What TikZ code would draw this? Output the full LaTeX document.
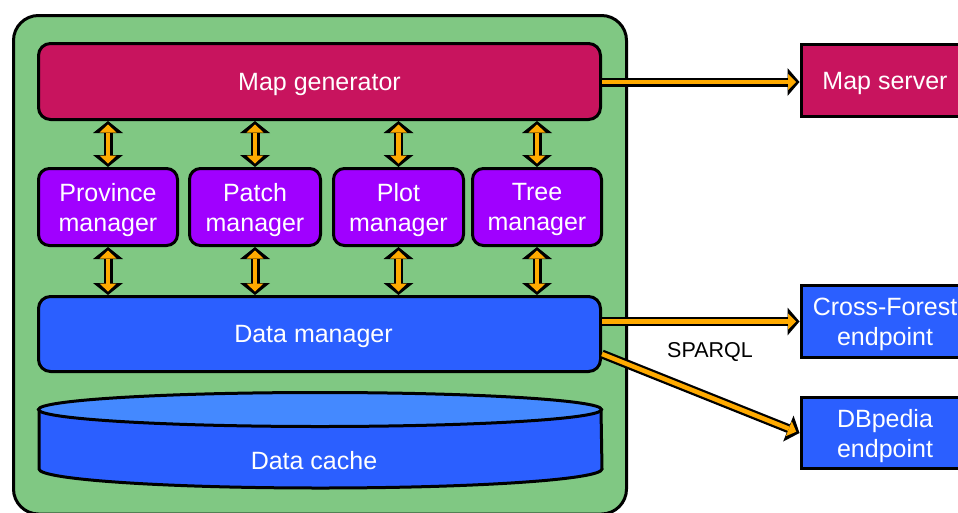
\documentclass[tikz,border=0pt]{standalone}
\usepackage{fontspec}
\setmainfont{Liberation Sans}
\usetikzlibrary{arrows.meta}
\definecolor{cgreen}{HTML}{80C883}
\definecolor{ccrimson}{HTML}{C8145E}
\definecolor{cpurple}{HTML}{A000FF}
\definecolor{cblue}{HTML}{2B5FFF}
\definecolor{clight}{HTML}{4489FF}
\definecolor{corange}{HTML}{FFAA00}
\begin{document}
\begin{tikzpicture}[x=1pt,y=-1pt,
  box/.style={draw=black, line width=3pt, text=white, font=\fontsize{25}{30}\selectfont, align=center, inner sep=0pt, text depth=-1pt},
  rbox/.style={box, rounded corners=12pt},
  mgr/.style={rbox, fill=cpurple, rounded corners=11pt, minimum width=#1, minimum height=77pt},
  conn/.style={line width=4.5pt, draw=corange,
    {Triangle[length=8pt,width=17pt,line width=0pt]}-{Triangle[length=8pt,width=17pt,line width=0pt]},
    shorten >=3.5pt, shorten <=3.5pt,
    preaction={draw=black, line width=9pt,
      {Triangle[length=12pt,width=30pt,line width=0pt]}-{Triangle[length=12pt,width=30pt,line width=0pt]},
      shorten >=0pt, shorten <=0pt}},
  oneway/.style={line width=4.5pt, draw=corange,
    -{Triangle[length=8pt,width=16pt,line width=0pt]},
    shorten >=3.5pt,
    preaction={draw=black, line width=9pt,
      -{Triangle[length=12pt,width=28pt,line width=0pt]},
      shorten >=0pt}},
  lbl/.style={font=\fontsize{21.5}{25}\selectfont, text=black, inner sep=0pt}
]
\useasboundingbox (0,0) rectangle (958,512);
\clip (0,0) rectangle (958,512);
% container
\draw[fill=cgreen, line width=3pt, rounded corners=25pt] (13.5,15.5) rectangle (626.5,514);
% map generator
\node[rbox, fill=ccrimson, minimum width=562pt, minimum height=76pt] (mg) at (319.5,81.5) {Map generator};
% managers
\node[mgr=139pt] (pm) at (108,207) {Province\\manager};
\node[mgr=131pt] (pa) at (255,207) {Patch\\manager};
\node[mgr=130pt] (pl) at (398.5,207) {Plot\\manager};
\node[mgr=129pt] (tm) at (537,207) {Tree\\manager};
% data manager
\node[rbox, fill=cblue, minimum width=562pt, minimum height=75pt] (dm) at (319.5,334) {\hspace*{-12pt}Data manager};
% data cache cylinder
\draw[fill=cblue, line width=3pt] (39,409.5) -- (39,469) arc[start angle=180, end angle=360, x radius=281.5pt, y radius=19pt] -- (601,409.5) -- cycle;
\draw[fill=clight, line width=3pt] (320,409.5) ellipse[x radius=281.5pt, y radius=17pt];
\node[box, draw=none] (dc) at (314,460) {Data cache};
% right boxes
\node[box, fill=ccrimson, minimum width=168pt, minimum height=72pt] (ms) at (885,80.5) {Map server};
\node[box, fill=cblue, minimum width=168pt, minimum height=72pt] (cf) at (885,321.5) {Cross-Forest\\endpoint};
\node[box, fill=cblue, minimum width=168pt, minimum height=71pt] (db) at (885,433) {DBpedia\\endpoint};
% connectors
\foreach \m in {pm,pa,pl,tm}{
  \draw[conn] (\m.north) -- (\m.north |- mg.south);
  \draw[conn] (\m.south) -- (\m.south |- dm.north);
}
\draw[oneway] (mg.east |- 0,82) -- (ms.west |- 0,82);
\draw[oneway] (dm.east |- cf.west) -- (cf.west);
\draw[oneway] ([yshift=-20pt]dm.east) -- (db.west);
\node[lbl] (sp) at (710,352) {SPARQL};
\end{tikzpicture}
\end{document}
